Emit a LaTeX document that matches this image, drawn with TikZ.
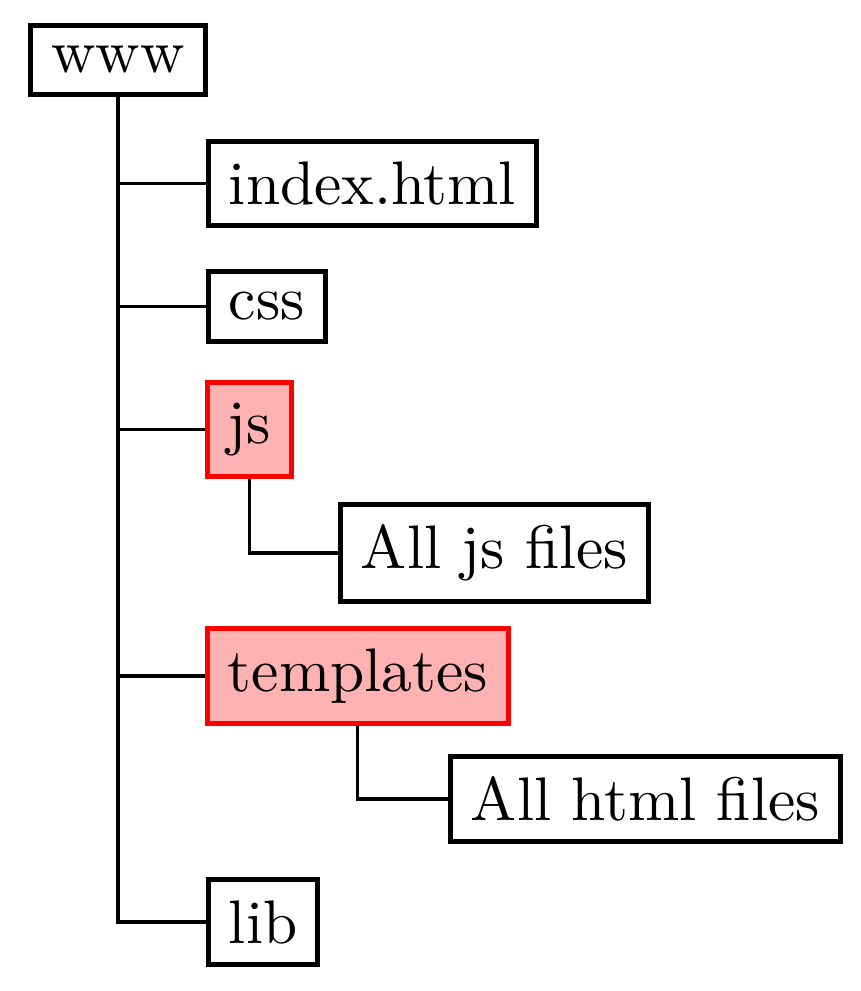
\documentclass[tikz,border=0pt]{standalone}
\begin{document}
\begin{tikzpicture}[x=0.16260pt,y=-0.16260pt,
  dirbox/.style={draw,thick,inner sep=0.333em,anchor=west},
  hotbox/.style={dirbox,draw=red,fill=red!30},
  conn/.style={draw,line width=0.5pt}]
\useasboundingbox (0,0) rectangle (861,991);
\node[draw,thick,inner sep=0.333em] (www) at (118,60) {www};
\node[dirbox] (index) at (206,183.5) {index.html};
\node[dirbox] (css) at (206,306.5) {css};
\node[hotbox] (js) at (205,429.5) {js};
\node[dirbox] (alljs) at (338,553) {All js files};
\node[hotbox] (templates) at (205,676) {templates};
\node[dirbox] (allhtml) at (448,799) {All html files};
\node[dirbox] (lib) at (206,922) {lib};
\draw[conn] (www.south) |- (lib.west);
\draw[conn] (www.south) |- (index.west);
\draw[conn] (www.south) |- (css.west);
\draw[conn] (www.south) |- (js.west);
\draw[conn] (www.south) |- (templates.west);
\draw[conn] (js.south) |- (alljs.west);
\draw[conn] (templates.south) |- (allhtml.west);
\end{tikzpicture}
\end{document}
